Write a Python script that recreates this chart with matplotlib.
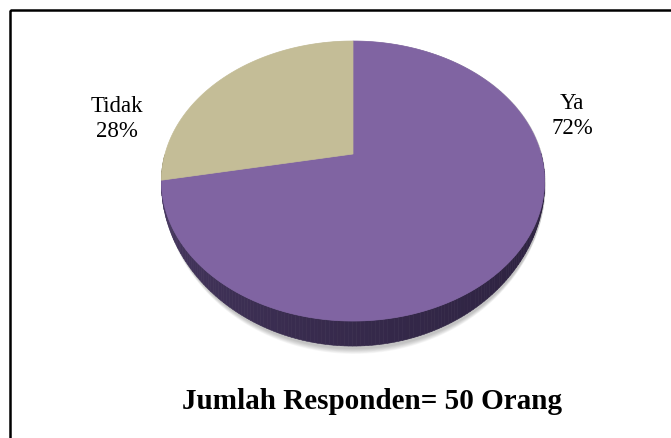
import numpy as np
import matplotlib.pyplot as plt
from matplotlib.patches import Polygon, Rectangle

plt.rcParams['font.family'] = ['Liberation Serif', 'DejaVu Serif']

labels = ['Ya', 'Tidak']
values = [72, 28]
colors = ['#8064A2', '#C4BD97']
side_light = {'Ya': '#4c3c67', 'Tidak': '#8a8468'}
side_dark = {'Ya': '#2d2240', 'Tidak': '#6b6650'}
label_pos = {'Ya': (572, 116), 'Tidak': (117, 119)}
title = 'Jumlah Responden= 50 Orang'

# pie geometry in pixel space (perspective projection of a flat cylinder)
cx, cy = 353, 155
A, B, k, depth = 188, 134.8, 0.193, 20.2


def proj(t, z=0.0, r=1.0):
    u = r * np.cos(t)
    v = r * np.sin(t)
    den = 1 + k * v
    # wall looks thin at the sides and full height at the front
    dz = z * depth * np.clip(-np.sin(t), 0, None) ** 1.3
    return cx + A * u / den, cy - B * v / den + dz / den


def mix(c1, c2, f):
    a = np.array(plt.matplotlib.colors.to_rgb(c1))
    b = np.array(plt.matplotlib.colors.to_rgb(c2))
    return tuple(a + (b - a) * f)


fig = plt.figure(figsize=(6.71, 4.39), dpi=100)
ax = fig.add_axes([0, 0, 1, 1])
ax.set_xlim(0, 671)
ax.set_ylim(439, 0)
ax.axis('off')

# slices: Tidak goes counterclockwise from 12 o'clock, Ya fills the rest
total = sum(values)
spans = {}
start = np.pi / 2
for lab, val in zip(['Tidak', 'Ya'], [values[1], values[0]]):
    ext = 2 * np.pi * val / total
    spans[lab] = (start, start + ext)
    start += ext

# soft shadow under the front of the pie
tt = np.linspace(0, 2 * np.pi, 200)
for i in range(8):
    xs, ys = proj(tt, z=1.0)
    ys = ys + (3 + i * 0.7) * np.clip(-np.sin(tt), 0, None)
    ax.add_patch(Polygon(np.column_stack([xs + 1, ys]), closed=True,
                         facecolor='#000000', edgecolor='none', alpha=0.03))

# side wall, back to front
quads = []
for lab in ['Tidak', 'Ya']:
    a0, a1 = spans[lab]
    ts = np.linspace(a0, a1, int(abs(a1 - a0) * 60) + 2)
    for t0, t1 in zip(ts[:-1], ts[1:]):
        x0, y0 = proj(t0)
        x1, y1 = proj(t1)
        x2, y2 = proj(t1, 1.0)
        x3, y3 = proj(t0, 1.0)
        tm = (t0 + t1) / 2
        if np.sin(tm) > 0:
            continue
        f = ((np.cos(tm) + 1) / 2) ** 0.5
        col = mix(side_light[lab], side_dark[lab], f)
        quads.append((-np.sin(tm), [(x0, y0), (x1, y1), (x2, y2), (x3, y3)], col))
quads.sort(key=lambda q: q[0])
for _, pts, col in quads:
    ax.add_patch(Polygon(pts, closed=True, facecolor=col, edgecolor=col, lw=0.4))

# top face
for lab, col in zip(labels, colors):
    a0, a1 = spans[lab]
    ts = np.linspace(a0, a1, 300)
    xs, ys = proj(ts)
    pts = np.column_stack([np.r_[cx, xs], np.r_[cy, ys]])
    ax.add_patch(Polygon(pts, closed=True, facecolor=col, edgecolor=col, lw=0.5))

# labels
for lab, val in zip(labels, values):
    x, y = label_pos[lab]
    pct = round(100 * val / total)
    ax.text(x, y, f'{lab}\n{pct}%', ha='center', va='center', fontsize=16.5,
            linespacing=1.25, color='black')

ax.text(372, 402, title, ha='center', va='center', fontsize=21,
        fontweight='bold', color='black')

# chart border (runs off the right and bottom edges)
ax.add_patch(Rectangle((10, 11), 720, 480, fill=False, edgecolor='black', lw=1.8))

fig.savefig('out.png', dpi=100)
